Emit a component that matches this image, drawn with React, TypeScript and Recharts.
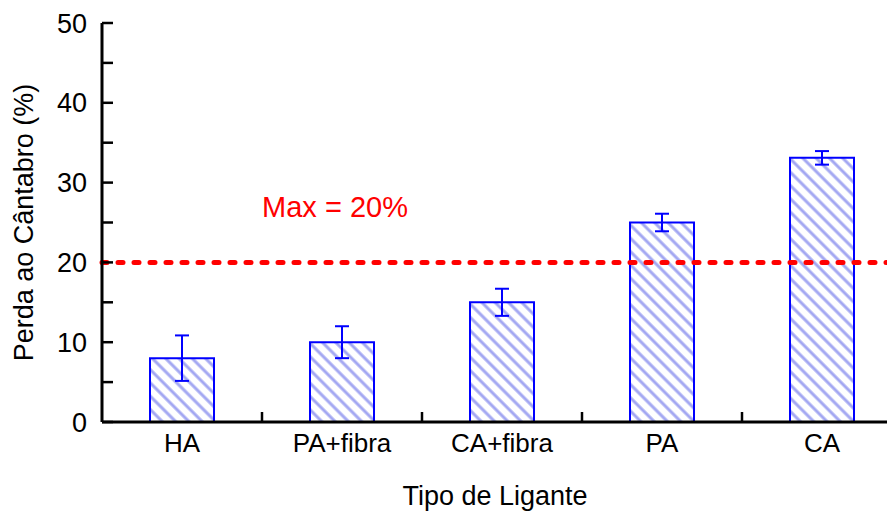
import React from 'react';
import { BarChart, Bar, XAxis, YAxis, ErrorBar, ReferenceLine, ReferenceDot } from 'recharts';

const categories = ['HA', 'PA+fibra', 'CA+fibra', 'PA', 'CA'];
const values = [8, 10, 15, 25, 33.1];
const errors = [2.85, 2.0, 1.7, 1.1, 0.85];
const yTicks = [0, 5, 10, 15, 20, 25, 30, 35, 40, 45, 50];
const limitValue = 20;
const limitLabel = 'Max = 20%';
const limitLabelCategory = 'PA+fibra';
const limitLabelY = 27;

const data = categories.map((c, i) => ({ name: c, value: values[i], err: errors[i] }));

const FONT = '"Liberation Sans", Arial, Helvetica, sans-serif';
const BLUE = '#0000ff';
const X_TICK_SIZE = 6;
const X_TICK_MARGIN = 6;

const XTick = (props: any) => {
  const { x, y, payload } = props;
  const axisY = y - X_TICK_SIZE - X_TICK_MARGIN;
  const bx = x + (payload && payload.offset ? payload.offset : 0);
  return (
    <g>
      <line x1={bx} x2={bx} y1={axisY} y2={axisY - 10} stroke="#000" strokeWidth={2.5} />
      <text x={x} y={y} dy="0.71em" textAnchor="middle" fill="#000" fontSize={26} fontFamily={FONT}>
        {payload.value}
      </text>
    </g>
  );
};

export default function App() {
  return (
    <div style={{ width: 887, height: 503, overflow: 'hidden' }}>
      <BarChart
        width={894}
        height={503}
        data={data}
        margin={{ top: 15, right: 0, left: 0, bottom: 6 }}
        barCategoryGap="30%"
        style={{ fontFamily: FONT }}
      >
        <defs>
          <pattern id="hatch" patternUnits="userSpaceOnUse" width="9.4" height="9.4" patternTransform="rotate(-45)">
            <rect x="0" y="0" width="9.4" height="9.4" fill="#ffffff" />
            <line x1="4.7" y1="0" x2="4.7" y2="9.4" stroke="#a3a7f2" strokeWidth="3" />
          </pattern>
        </defs>
        <XAxis
          dataKey="name"
          height={83}
          axisLine={{ stroke: '#000', strokeWidth: 3 }}
          tickLine={false}
          tickSize={X_TICK_SIZE}
          tickMargin={X_TICK_MARGIN}
          interval={0}
          tick={<XTick />}
          label={{ value: 'Tipo de Ligante', position: 'insideBottom', offset: 0, dx: -7, fill: '#000', fontSize: 27, fontFamily: FONT }}
        />
        <YAxis
          width={94}
          domain={[0, 50]}
          ticks={yTicks}
          interval={0}
          tickSize={-11}
          tickMargin={26}
          tickFormatter={(v: number) => (v % 10 === 0 ? String(v) : '')}
          axisLine={{ stroke: '#000', strokeWidth: 3 }}
          tickLine={{ stroke: '#000', strokeWidth: 2.5 }}
          tick={{ fill: '#000', fontSize: 27, fontFamily: FONT }}
          label={{ value: 'Perda ao Cântabro (%)', angle: -90, position: 'insideLeft', offset: 15, fill: '#000', fontSize: 27, fontFamily: FONT, style: { textAnchor: 'middle' } }}
        />
        <Bar dataKey="value" fill="url(#hatch)" stroke={BLUE} strokeWidth={2} isAnimationActive={false}>
          <ErrorBar dataKey="err" width={7} stroke={BLUE} strokeWidth={2} direction="y" />
        </Bar>
        <ReferenceLine y={limitValue} stroke="#ff0000" strokeWidth={5} strokeDasharray="5 11" strokeLinecap="round" />
        <ReferenceDot
          x={limitLabelCategory}
          y={limitLabelY}
          r={0}
          fill="none"
          stroke="none"
          label={{ value: limitLabel, position: 'center', dx: -7, fill: '#ff0000', fontSize: 29, fontFamily: FONT }}
        />
      </BarChart>
    </div>
  );
}
